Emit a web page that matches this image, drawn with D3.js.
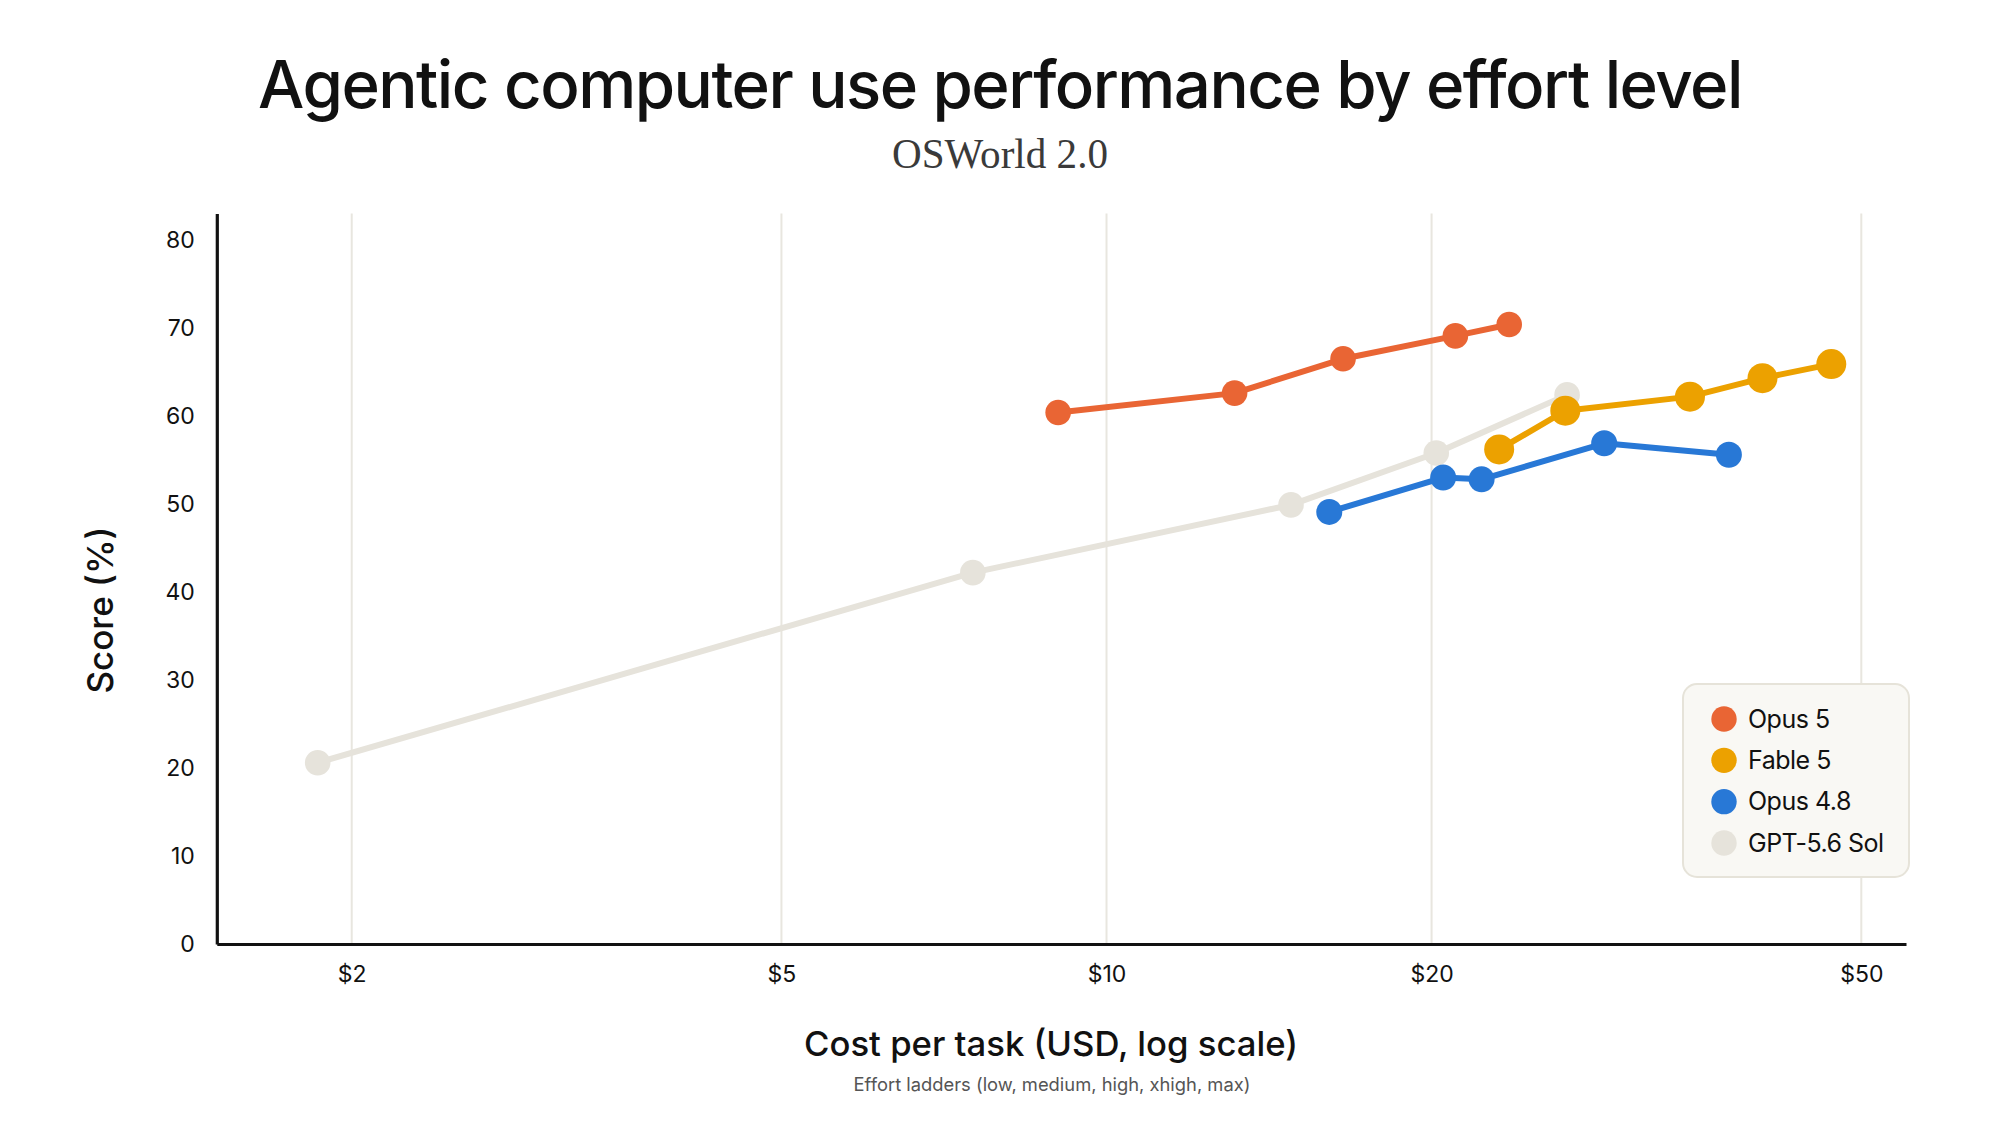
<!DOCTYPE html>
<html><head><meta charset="utf-8">
<script src="https://cdn.jsdelivr.net/npm/d3@7"></script>
<style>
html,body{margin:0;padding:0;background:#fff;}
svg{display:block;}
</style></head>
<body>
<svg id="chart" width="2000" height="1125"></svg>
<script>
const seriesNames = ["Opus 5", "Fable 5", "Opus 4.8", "GPT-5.6 Sol"];
const seriesColors = ["#E96534", "#ECA100", "#2878D6", "#E6E3DB"];
const opus5Cost = [9.02, 13.14, 16.56, 21.04, 23.6];
const opus5Score = [60.4, 62.6, 66.5, 69.1, 70.4];
const fable5Cost = [23.1, 26.6, 34.7, 40.5, 46.9];
const fable5Score = [56.2, 60.6, 62.2, 64.3, 65.9];
const opus48Cost = [16.08, 20.5, 22.25, 28.9, 37.7];
const opus48Score = [49.1, 53.0, 52.8, 56.9, 55.6];
const gptCost = [1.86, 7.52, 14.82, 20.2, 26.7];
const gptScore = [20.6, 42.2, 49.9, 55.8, 62.4];
const xTicks = [2, 5, 10, 20, 50];
const yTicks = [0, 10, 20, 30, 40, 50, 60, 70, 80];

const costs = [opus5Cost, fable5Cost, opus48Cost, gptCost];
const scores = [opus5Score, fable5Score, opus48Score, gptScore];
const radii = [12.8, 15, 13, 12.8];
const drawOrder = [3, 0, 2, 1];

const svg = d3.select("#chart");
const SANS = "Inter, 'Noto Sans', sans-serif";

const x = d3.scaleLog().domain([1.5, 55]).range([216.8, 1906]);
const y = d3.scaleLinear().domain([0, 83]).range([944, 213.6]);

function fit(sel, targetW) {
  const w = sel.node().getComputedTextLength();
  const fs = parseFloat(sel.attr("font-size"));
  sel.attr("font-size", fs * targetW / w);
}

// Title
const title = svg.append("text").attr("x", 1000).attr("y", 108)
  .attr("text-anchor", "middle").attr("font-family", SANS).attr("font-weight", 500)
  .attr("font-size", 66).attr("letter-spacing", "-1.5px").attr("fill", "#111")
  .text("Agentic computer use performance by effort level");
fit(title, 1485);

const sub = svg.append("text").attr("x", 1000).attr("y", 168)
  .attr("text-anchor", "middle").attr("font-family", "'Liberation Serif', 'DejaVu Serif', serif")
  .attr("font-size", 40).attr("fill", "#3a3a3a")
  .text("OSWorld 2.0");
fit(sub, 216);

// gridlines
svg.append("g").selectAll("line").data(xTicks).join("line")
  .attr("x1", d => x(d)).attr("x2", d => x(d))
  .attr("y1", y(83)).attr("y2", y(0))
  .attr("stroke", "#E8E6DF").attr("stroke-width", 2);

// axes
const xAxis = svg.append("g").attr("transform", `translate(0,${y(0)})`)
  .call(d3.axisBottom(x).tickValues(xTicks).tickFormat(d => "$" + d).tickSize(0).tickPadding(22));
xAxis.select(".domain").attr("stroke", "#111").attr("stroke-width", 3.2);
xAxis.selectAll("text").attr("font-family", SANS).attr("font-size", 23).attr("fill", "#111");

const yAxis = svg.append("g").attr("transform", `translate(${x(1.5)},0)`)
  .call(d3.axisLeft(y).tickValues(yTicks).tickFormat(d3.format("d")).tickSize(0).tickPadding(22));
yAxis.select(".domain").attr("stroke", "#111").attr("stroke-width", 3.2);
yAxis.selectAll("text").attr("font-family", SANS).attr("font-size", 23).attr("fill", "#111");

// axis titles
const yt = svg.append("text").attr("transform", "translate(113,610) rotate(-90)")
  .attr("text-anchor", "middle").attr("font-family", SANS).attr("font-weight", 500)
  .attr("font-size", 34).attr("fill", "#111").text("Score (%)");
fit(yt, 167);

const xt = svg.append("text").attr("x", 1051).attr("y", 1056)
  .attr("text-anchor", "middle").attr("font-family", SANS).attr("font-weight", 500)
  .attr("font-size", 34).attr("fill", "#111").text("Cost per task (USD, log scale)");
fit(xt, 494);

const note = svg.append("text").attr("x", 1052).attr("y", 1091)
  .attr("text-anchor", "middle").attr("font-family", SANS)
  .attr("font-size", 17).attr("fill", "#555").text("Effort ladders (low, medium, high, xhigh, max)");
fit(note, 397);

// series
const line = d3.line().x(d => x(d[0])).y(d => y(d[1]));
drawOrder.forEach(i => {
  const pts = costs[i].map((c, k) => [c, scores[i][k]]);
  const g = svg.append("g");
  g.append("path").datum(pts).attr("d", line).attr("fill", "none")
    .attr("stroke", seriesColors[i]).attr("stroke-width", 6).attr("stroke-linejoin", "round");
  g.selectAll("circle").data(pts).join("circle")
    .attr("cx", d => x(d[0])).attr("cy", d => y(d[1])).attr("r", radii[i])
    .attr("fill", seriesColors[i]);
});

// legend
const lg = svg.append("g");
lg.append("rect").attr("x", 1683).attr("y", 684).attr("width", 226).attr("height", 193)
  .attr("rx", 14).attr("fill", "#F9F8F4").attr("stroke", "#E6E3D9").attr("stroke-width", 2);
const ly = d3.scalePoint().domain(seriesNames).range([719, 843]);
seriesNames.forEach((n, i) => {
  lg.append("circle").attr("cx", 1724).attr("cy", ly(n)).attr("r", 12.7).attr("fill", seriesColors[i]);
  lg.append("text").attr("x", 1748).attr("y", ly(n)).attr("dy", "0.35em")
    .attr("font-family", SANS).attr("font-size", 25).attr("letter-spacing", "-0.5px")
    .attr("fill", "#111").text(n);
});
</script>
</body></html>
